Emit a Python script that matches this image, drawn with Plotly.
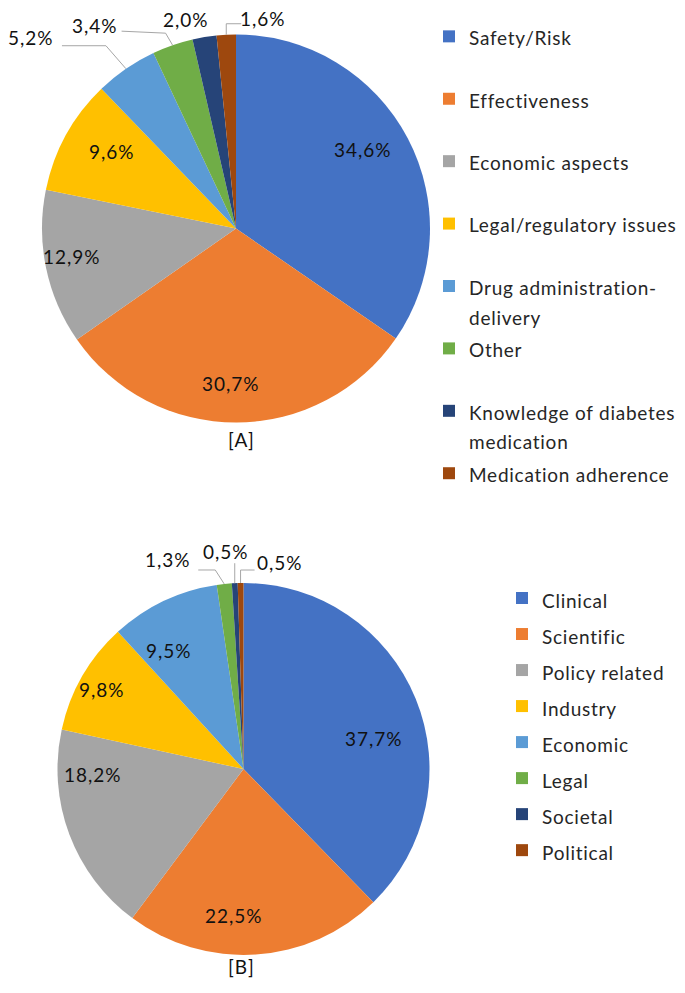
import math
import plotly.graph_objects as go

W, H = 685, 993

# ---------------- data ----------------
cats_a = ["Safety/Risk", "Effectiveness", "Economic aspects", "Legal/regulatory issues",
          "Drug administration-delivery", "Other", "Knowledge of diabetes medication",
          "Medication adherence"]
vals_a = [34.6, 30.7, 12.9, 9.6, 5.2, 3.4, 2.0, 1.6]

cats_b = ["Clinical", "Scientific", "Policy related", "Industry", "Economic", "Legal",
          "Societal", "Political"]
vals_b = [37.7, 22.5, 18.2, 9.8, 9.5, 1.3, 0.5, 0.5]

colors = ["#4472C4", "#ED7D31", "#A5A5A5", "#FFC000", "#5B9BD5", "#70AD47", "#264478", "#9E480E"]

# legend line breaks (display only)
breaks_a = {"Drug administration-delivery": "Drug administration-<br>delivery",
            "Knowledge of diabetes medication": "Knowledge of diabetes<br>medication"}

# ---------------- layout geometry (pixels) ----------------
geo_a = dict(cx=228, cy=220.5, r=194)
geo_b = dict(cx=235.5, cy=761, r=186)
FONT = "Lato"
TEXT_SIZE = 19
LABEL_SPACING = 1.0
LEGEND_SPACING = 0.75

# inside labels: slice index -> (radial fraction, angle offset in degrees)
inside_a = {0: (0.77, -4), 1: (0.80, 2), 2: (0.86, 2), 3: (0.75, 3)}
inside_b = {0: (0.72, 9), 1: (0.79, 7.5), 2: (0.81, 18.5), 3: (0.87, -0.6), 4: (0.75, -6.8)}

# outside labels: slice index -> (text offset, leader path offsets) relative to slice edge point
outside_a = {4: ((-95, -31), [(0, 0), (-20, -23), (-64, -23)]),
             5: ((-78, -20), [(0, 0), (-7, -12), (-51, -14)]),
             6: ((-18, -18), []),
             7: ((37, -16), [(0, 0), (0, -11), (15, -11)])}
outside_b = {5: ((-56, -24), [(0, 0), (-9, -14), (-26, -14)]),
             6: ((-9, -32), [(0, 0), (0, -20)]),
             7: ((39, -21), [(0, 0), (0, -13), (14, -13)])}


def px2paper(x, y):
    return x / W, 1 - y / H


def fmt(v):
    return f"{v:.1f}".replace(".", ",") + "%"


def styled(t, spacing):
    return f"<span style='letter-spacing:{spacing}px'>{t}</span>"


def build(vals, geo, inside, outside):
    anns, shapes = [], []
    total = sum(vals)
    cum = 0.0
    for i, v in enumerate(vals):
        mid = (cum + v / 2) / total * 2 * math.pi
        cum += v
        if i in outside:
            sx, sy = math.sin(mid), -math.cos(mid)
            ex, ey = geo["cx"] + geo["r"] * sx, geo["cy"] + geo["r"] * sy
            (tdx, tdy), path = outside[i]
            tx, ty = ex + tdx, ey + tdy
            if path:
                pts = [px2paper(ex + dx, ey + dy) for dx, dy in path]
                d = "M " + " L ".join(f"{p[0]:.5f},{p[1]:.5f}" for p in pts)
                shapes.append(dict(type="path", path=d, xref="paper", yref="paper",
                                   line=dict(color="#A6A6A6", width=1)))
        else:
            frac, off = inside[i]
            ang = mid + math.radians(off)
            d = geo["r"] * frac
            tx, ty = geo["cx"] + d * math.sin(ang), geo["cy"] - d * math.cos(ang)
        px, py = px2paper(tx, ty)
        anns.append(dict(x=px, y=py, xref="paper", yref="paper",
                         text=styled(fmt(v), LABEL_SPACING), showarrow=False,
                         xanchor="center", yanchor="middle",
                         font=dict(family=FONT, size=TEXT_SIZE, color="#111111")))
    return anns, shapes


def domain(geo):
    x0, y1 = px2paper(geo["cx"] - geo["r"], geo["cy"] - geo["r"])
    x1, y0 = px2paper(geo["cx"] + geo["r"], geo["cy"] + geo["r"])
    return dict(x=[x0, x1], y=[y0, y1])


def legend_labels(cats, breaks=None, pad=False):
    out = []
    for c in cats:
        t = breaks.get(c, c) if breaks else c
        lines = t.split("<br>")
        t = "<br>".join(
            f"<span style='font-size:{TEXT_SIZE}px;letter-spacing:{LEGEND_SPACING}px'>{ln}</span>"
            for ln in lines)
        if pad and len(lines) == 1:
            t += "<br>\u00a0"
        out.append(t)
    return out


fig = go.Figure()
fig.add_trace(go.Pie(labels=legend_labels(cats_a, breaks_a, pad=True), values=vals_a,
                     marker=dict(colors=colors, line=dict(width=0)), sort=False,
                     direction="clockwise", rotation=0, textinfo="none", hoverinfo="skip",
                     domain=domain(geo_a), legend="legend"))
fig.add_trace(go.Pie(labels=legend_labels(cats_b), values=vals_b,
                     marker=dict(colors=colors, line=dict(width=0)), sort=False,
                     direction="clockwise", rotation=0, textinfo="none", hoverinfo="skip",
                     domain=domain(geo_b), legend="legend2"))

anns_a, shapes_a = build(vals_a, geo_a, inside_a, outside_a)
anns_b, shapes_b = build(vals_b, geo_b, inside_b, outside_b)

for txt, (x, y) in [("[A]", (233, 431)), ("[B]", (233, 972))]:
    px, py = px2paper(x, y)
    anns_a.append(dict(x=px, y=py, xref="paper", yref="paper", text=styled(txt, LABEL_SPACING),
                       showarrow=False,
                       font=dict(family=FONT, size=TEXT_SIZE, color="#111111")))

fig.update_layout(
    width=W, height=H, margin=dict(l=0, r=0, t=0, b=0),
    paper_bgcolor="white", plot_bgcolor="white",
    annotations=anns_a + anns_b, shapes=shapes_a + shapes_b,
    legend=dict(x=421 / W, y=1 - 7 / H, xanchor="left", yanchor="top",
                font=dict(family=FONT, size=22.85, color="#262626"), valign="top",
                bgcolor="rgba(0,0,0,0)", itemclick=False, itemdoubleclick=False),
    legend2=dict(x=494 / W, y=1 - 567 / H, xanchor="left", yanchor="top",
                 font=dict(family=FONT, size=25.4, color="#262626"), valign="top",
                 bgcolor="rgba(0,0,0,0)", itemclick=False, itemdoubleclick=False),
)

fig.write_html("out.html")
